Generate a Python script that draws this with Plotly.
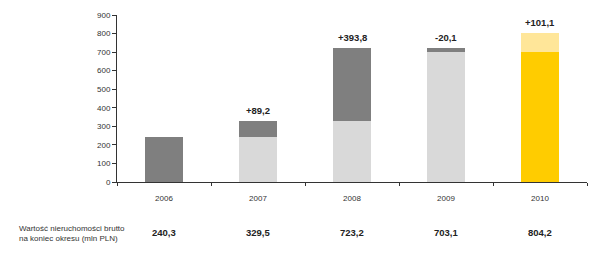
import plotly.graph_objects as go

categories = ["2006", "2007", "2008", "2009", "2010"]
base_values = [240.3, 240.3, 329.5, 703.1, 703.1]
delta_values = [0, 89.2, 393.8, 20.1, 101.1]
delta_labels = ["", "+89,2", "+393,8", "-20,1", "+101,1"]
end_labels = ["240,3", "329,5", "723,2", "703,1", "804,2"]
row_title = "Wartość nieruchomości brutto<br>na koniec okresu (mln PLN)"

DARK = "#7f7f7f"
LIGHT = "#d9d9d9"
YEL = "#ffcc00"
LYEL = "#ffe699"
base_colors = [DARK, LIGHT, LIGHT, LIGHT, YEL]
delta_colors = [DARK, DARK, DARK, DARK, LYEL]

FONT = "Liberation Sans, Arial, sans-serif"

fig = go.Figure()
fig.add_trace(go.Bar(x=categories, y=base_values, marker=dict(color=base_colors, line=dict(width=0)),
                     hoverinfo="skip"))
fig.add_trace(go.Bar(x=categories, y=delta_values, marker=dict(color=delta_colors, line=dict(width=0)),
                     hoverinfo="skip"))

annotations = []
for i, (b, d, lab) in enumerate(zip(base_values, delta_values, delta_labels)):
    if lab:
        annotations.append(dict(x=i, y=b + d, xref="x", yref="y", text="<b>" + lab + "</b>",
                                showarrow=False, yanchor="bottom", yshift=3,
                                font=dict(family=FONT, size=9.5, color="#222")))
for i, lab in enumerate(end_labels):
    annotations.append(dict(x=i, y=-0.30, xref="x", yref="paper", text="<b>" + lab + "</b>",
                            showarrow=False, yanchor="middle",
                            font=dict(family=FONT, size=9.5, color="#222")))
annotations.append(dict(x=-0.213, y=-0.31, xref="paper", yref="paper", text=row_title,
                        showarrow=False, xanchor="left", yanchor="middle", align="left",
                        font=dict(family=FONT, size=8, color="#333")))

fig.update_layout(
    width=599, height=259,
    margin=dict(l=117, r=12, t=15, b=77),
    barmode="stack", bargap=0.6, showlegend=False,
    plot_bgcolor="white", paper_bgcolor="white",
    font=dict(family=FONT, size=8, color="#333"),
    annotations=annotations,
)
fig.update_xaxes(type="category", range=[-0.5, 4.5], showline=True, linecolor="#333", linewidth=1,
                 ticks="outside", ticklen=3, tickcolor="#333", tickson="boundaries",
                 showgrid=False, tickfont=dict(size=8, color="#333"), ticklabelstandoff=8)
fig.update_yaxes(range=[0, 900], dtick=100, showline=True, linecolor="#333", linewidth=1,
                 ticks="outside", ticklen=4, tickcolor="#333", showgrid=False, zeroline=False,
                 tickfont=dict(size=8, color="#333"))

fig.write_html("out.html")
